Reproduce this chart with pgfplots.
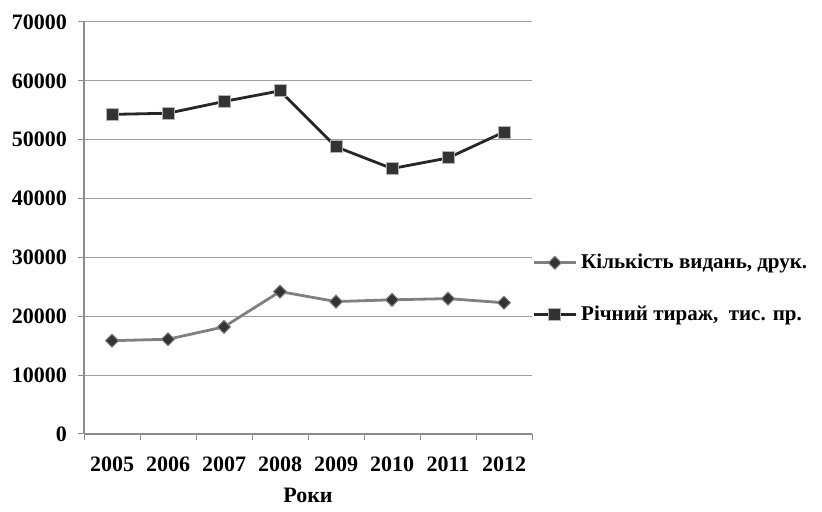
\documentclass[border=0pt]{standalone}
\usepackage{fontspec}
\setmainfont{Liberation Serif}
\usepackage{pgfplots}
\pgfplotsset{compat=1.18}

\definecolor{gridgray}{HTML}{A0A0A0}
\definecolor{axisgray}{HTML}{8C8C8C}
\definecolor{lightline}{HTML}{808080}
\definecolor{darkline}{HTML}{262626}
\definecolor{markfill}{HTML}{333333}
\definecolor{markedge}{HTML}{B4B4B4}

\begin{document}
\begin{tikzpicture}
\useasboundingbox (-42pt,-39pt) rectangle (369pt,217pt);
\begin{axis}[
  at={(0pt,0pt)}, anchor=south west,
  scale only axis,
  width=224pt, height=206pt,
  xmin=-0.5, xmax=7.5,
  ymin=0, ymax=70000,
  axis lines*=left,
  axis line style={draw=axisgray, line width=0.6pt},
  xtick={0,...,7},
  xticklabels={2005,2006,2007,2008,2009,2010,2011,2012},
  minor xtick={-0.5,0.5,...,7.5},
  major x tick style={draw=none},
  minor x tick style={draw=axisgray, line width=0.5pt},
  tick align=outside,
  minor tick length=3pt,
  major tick length=3pt,
  ytick={0,10000,...,70000},
  y tick style={draw=axisgray, line width=0.5pt},
  scaled y ticks=false,
  /pgf/number format/.cd, 1000 sep={}, assume math mode=true,
  /pgfplots/.cd,
  ymajorgrids=true,
  grid style={draw=gridgray, line width=0.5pt},
  tick label style={font=\fontsize{11}{12}\selectfont\bfseries},
  yticklabel style={xshift=-2pt},
  xticklabel style={yshift=-5pt},
  xlabel={Роки},
  xlabel style={font=\fontsize{11}{12}\selectfont\bfseries,
    at={(axis description cs:0.5,0)}, anchor=center, yshift=-30.5pt},
  legend style={at={(rel axis cs:1.0,0.353)}, anchor=west, draw=none, fill=none,
    font=\fontsize{10.5}{12}\selectfont\bfseries,
    row sep=13pt, inner sep=0pt},
  legend cell align=left,
  legend image code/.code={%
    \draw[mark repeat=2, mark phase=2, #1]
      plot coordinates {(0pt,0pt) (10.5pt,0pt) (21pt,0pt)};},
]
\addplot[color=lightline, line width=1.4pt, mark=square*, mark size=2.3pt,
  mark options={rotate=45, fill=markfill, draw=lightline, line width=0.5pt}]
  coordinates {(0,15850) (1,16100) (2,18200) (3,24200) (4,22500) (5,22800) (6,23000) (7,22300)};
\addlegendentry{Кількість видань, друк.}
\addplot[color=darkline, line width=1.4pt, mark=square*, mark size=3pt,
  mark options={fill=markfill, draw=markedge, line width=0.5pt}]
  coordinates {(0,54300) (1,54500) (2,56500) (3,58300) (4,48800) (5,45100) (6,46900) (7,51300)};
\addlegendentry{Річний тираж,\ \ тис. пр.}
\end{axis}
\end{tikzpicture}
\end{document}
